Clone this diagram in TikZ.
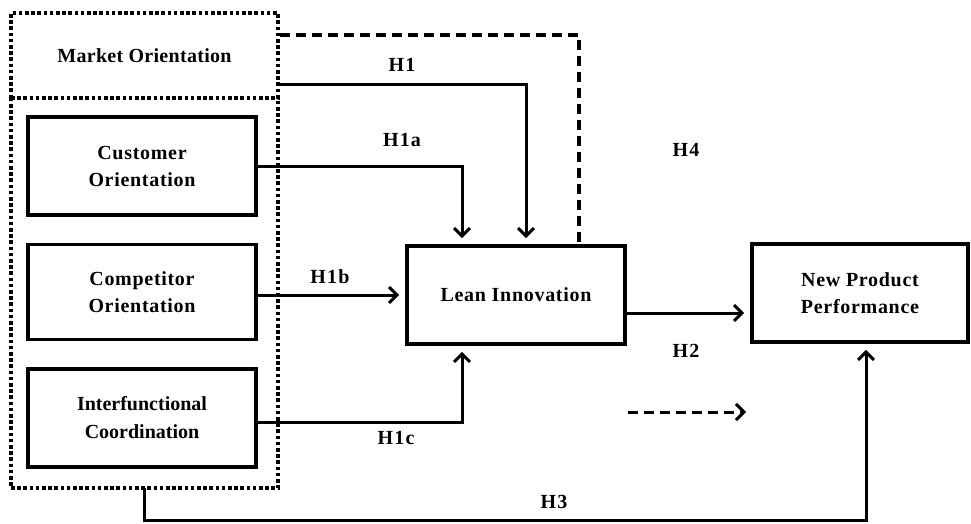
\documentclass[tikz,border=0pt]{standalone}
\usepackage{fontspec}
\setmainfont{Liberation Serif}
\newfontfamily\boxfont[LetterSpace=3.5]{Liberation Serif}
\newfontfamily\mofont[LetterSpace=1.5]{Liberation Serif}
\newfontfamily\hfont[LetterSpace=6]{Liberation Serif}
\usetikzlibrary{arrows.meta,calc}
\begin{document}
\begin{tikzpicture}[x=1pt,y=-1pt,
  box/.style={draw,line width=3.6pt,inner sep=0pt,align=center,font=\boxfont\bfseries\fontsize{20}{27}\selectfont},
  dotln/.style={line width=3.8pt,dash pattern=on 3.6pt off 2.6pt},
  arr/.style={line width=3pt,-{Straight Barb[length=8pt,width=16pt,line width=3pt]},shorten >=6pt},
  dashln/.style={line width=3.2pt,dash pattern=on 10pt off 6pt},
  hlbl/.style={font=\hfont\bfseries\fontsize{20}{22}\selectfont,inner sep=0pt}]
\useasboundingbox (0,0) rectangle (971,524);
% dotted frames
\node[draw,dotln,inner sep=0pt,minimum width=267pt,minimum height=85pt,font=\mofont\bfseries\fontsize{20}{22}\selectfont] (mo) at (144.5,55.5) {Market Orientation};
\node[inner sep=0pt,minimum width=267pt,minimum height=390pt] (grp) at (144.5,293) {};
\draw[dotln] (grp.north west) -- (grp.south west) -- (grp.south east) -- (grp.north east);
% boxes
\node[box,minimum width=228pt,minimum height=98pt] (cust) at (142,166) {Customer\\Orientation};
\node[box,minimum width=228pt,minimum height=95pt] (comp) at (142,292) {Competitor\\Orientation};
\node[box,minimum width=228pt,minimum height=98pt,font=\bfseries\fontsize{20}{28}\selectfont] (inter) at (142,418) {Interfunctional\\Coordination};
\node[box,minimum width=218pt,minimum height=98pt] (lean) at (516,295) {Lean Innovation};
\node[box,minimum width=216pt,minimum height=98pt] (npp) at (860,293) {New Product\\Performance};
% connectors
\draw[dashln] ([yshift=20.5pt]mo.east) -| ([xshift=63pt]lean.north);
\draw[arr] ([yshift=-29.5pt]mo.east) -| ([xshift=10pt]lean.north);
\draw[arr] (cust.east) -| ([xshift=-54pt]lean.north);
\draw[arr] ([yshift=-3pt]comp.east) -- ([yshift=-3pt]comp.east -| lean.west);
\draw[arr] ([yshift=-4pt]inter.east) -| ([xshift=-54pt]lean.south);
\draw[arr] ([yshift=-18pt]lean.east) -- ([yshift=-18pt]lean.east -| npp.west);
\draw[arr] (grp.south) -- ++(0,32) -| ([xshift=6pt]npp.south);
\coordinate (lg1) at (628,412);
\coordinate (lg2) at (746,412);
\draw[dashln,arr,shorten >=0pt] (lg1) -- (lg2);
% labels
\node[hlbl] (h1) at (402,65) {H1};
\node[hlbl] (h1a) at (402,140) {H1a};
\node[hlbl] (h1b) at (330,277) {H1b};
\node[hlbl] (h1c) at (396,438) {H1c};
\node[hlbl] (h2) at (686,351) {H2};
\node[hlbl] (h3) at (554,502) {H3};
\node[hlbl] (h4) at (686,150) {H4};
\end{tikzpicture}
\end{document}
